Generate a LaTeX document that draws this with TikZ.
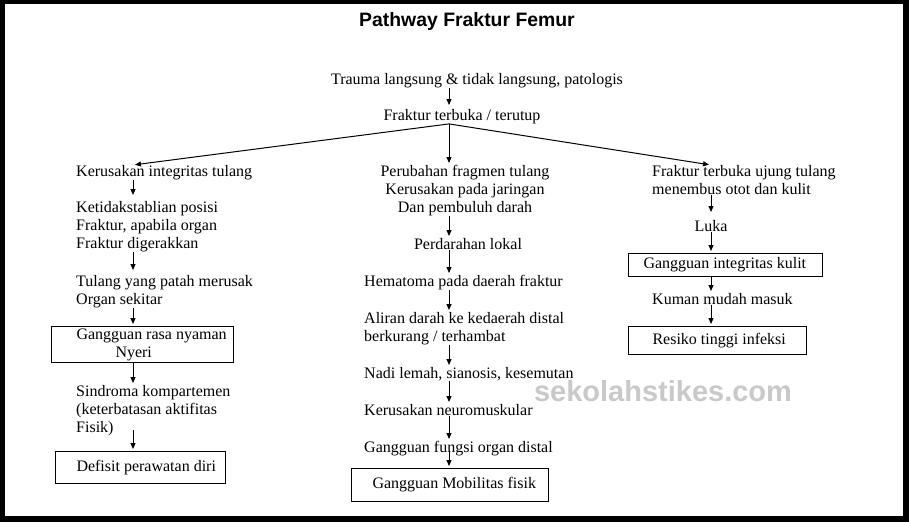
\documentclass[tikz,border=0pt]{standalone}
\usepackage{fontspec}
\setmainfont{Liberation Serif}
\newfontfamily\headfont{Liberation Sans}
\usetikzlibrary{arrows.meta}

\begin{document}
\begin{tikzpicture}[x=1pt, y=-1pt,
    txt/.style={inner sep=0pt, align=left, font=\fontsize{16}{18}\selectfont},
    box/.style={txt, align=flush left, draw, line width=1pt, anchor=north west},
    flow/.style={-{Triangle[length=6pt,width=5pt]}, line width=1pt, shorten >=2pt}]
    \fill[black] (0,0) rectangle (909,522);
    \fill[white] (5,4) rectangle (903,516);

    \node (title) [font=\headfont\bfseries\fontsize{19.4}{22}\selectfont] at (467,21) {Pathway Fraktur Femur};
    \node (mark) [font=\headfont\bfseries\fontsize{29}{32}\selectfont, text=black!21] at (663,391) {sekolahstikes.com};

    \coordinate (lcol) at (133,0);
    \coordinate (mcol) at (449,0);
    \coordinate (rcol) at (711,0);

    \node (trauma) [txt, anchor=north] at (477,73) {Trauma langsung \& tidak langsung, patologis};
    \node (fraktur) [txt, anchor=north] at (462,109) {Fraktur terbuka / terutup};

    % kiri
    \node (kerusakan) [txt, anchor=north west] at (76,165) {Kerusakan integritas tulang};
    \node (posisi) [txt, anchor=north west] at (76,201) {Ketidakstablian posisi\\Fraktur, apabila organ\\Fraktur digerakkan};
    \node (patah) [txt, anchor=north west] at (76,275) {Tulang yang patah merusak\\Organ sekitar};
    \node (nyeri) [box, text width=182pt, minimum height=36pt] at (51,326) {\hspace*{25pt}Gangguan rasa nyaman\\\hspace*{64pt}Nyeri};
    \node (sindroma) [txt, anchor=north west] at (76,385) {Sindroma kompartemen\\(keterbatasan aktifitas\\Fisik)};
    \node (defisit) [box, text width=170pt, minimum height=32pt] at (55,451) {\hspace*{21pt}Defisit perawatan diri};

    % tengah
    \node (fragmen) [txt, align=center, anchor=north] at (465,165) {Perubahan fragmen tulang\\Kerusakan pada jaringan\\Dan pembuluh darah};
    \node (perdarahan) [txt, anchor=north] at (468,238) {Perdarahan lokal};
    \node (hematoma) [txt, anchor=north west] at (364,275) {Hematoma pada daerah fraktur};
    \node (aliran) [txt, anchor=north west] at (364,312) {Aliran darah ke kedaerah distal\\berkurang / terhambat};
    \node (nadi) [txt, anchor=north west] at (364,367) {Nadi lemah, sianosis, kesemutan};
    \node (neuro) [txt, anchor=north west] at (364,404) {Kerusakan neuromuskular};
    \node (fungsi) [txt, anchor=north west] at (364,441) {Gangguan fungsi organ distal};
    \node (mobilitas) [box, text width=197pt, minimum height=33pt] at (351,468) {\hspace*{21pt}Gangguan Mobilitas fisik};

    % kanan
    \node (ujung) [txt, anchor=north west] at (652,165) {Fraktur terbuka ujung tulang\\menembus otot dan kulit};
    \node (luka) [txt, anchor=north] at (711,220) {Luka};
    \node (kulit) [box, text width=194pt, minimum height=23pt] at (628,253) {\hspace*{15pt}Gangguan integritas kulit};
    \node (kuman) [txt, anchor=north west] at (652,293) {Kuman mudah masuk};
    \node (infeksi) [box, text width=178pt, minimum height=28pt] at (628,326) {\hspace*{24pt}Resiko tinggi infeksi};

    \draw[flow, shorten >=4pt] (trauma.south -| mcol) -- (fraktur.north -| mcol);
    \draw[flow] (fraktur.south -| mcol) -- (kerusakan.north -| lcol);
    \draw[flow] (fraktur.south -| mcol) -- (fragmen.north -| mcol);
    \draw[flow] (fraktur.south -| mcol) -- (ujung.north -| rcol);

    \draw[flow, shorten >=6pt] (kerusakan.south -| lcol) -- (posisi.north -| lcol);
    \draw[flow, shorten >=5pt] (posisi.south -| lcol) -- (patah.north -| lcol);
    \draw[flow] (patah.south -| lcol) -- (nyeri.north -| lcol);
    \draw[flow] (nyeri.south -| lcol) -- (sindroma.north -| lcol);
    \draw[flow, shorten <=-6pt] (sindroma.south -| lcol) -- (defisit.north -| lcol);

    \draw[flow] (fragmen.south -| mcol) -- (perdarahan.north -| mcol);
    \draw[flow] (perdarahan.south -| mcol) -- (hematoma.north -| mcol);
    \draw[flow] (hematoma.south -| mcol) -- (aliran.north -| mcol);
    \draw[flow] (aliran.south -| mcol) -- (nadi.north -| mcol);
    \draw[flow] (nadi.south -| mcol) -- (neuro.north -| mcol);
    \draw[flow] (neuro.south -| mcol) -- (fungsi.north -| mcol);
    \draw[flow, shorten <=-5pt] (fungsi.south -| mcol) -- (mobilitas.north -| mcol);

    \draw[flow, shorten >=8pt] (ujung.south -| rcol) -- (luka.north -| rcol);
    \draw[flow] (luka.south -| rcol) -- (kulit.north -| rcol);
    \draw[flow] (kulit.south -| rcol) -- (kuman.north -| rcol);
    \draw[flow] (kuman.south -| rcol) -- (infeksi.north -| rcol);
\end{tikzpicture}
\end{document}
